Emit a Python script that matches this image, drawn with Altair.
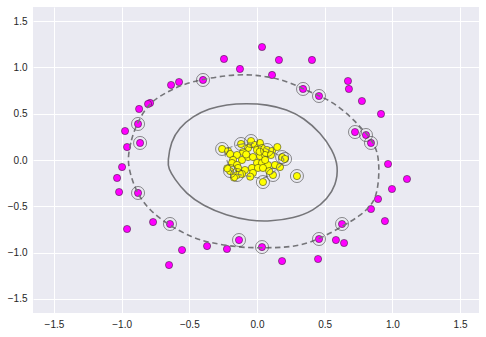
import altair as alt
import pandas as pd

# ---- data ----
mag_x = [0.037, -0.244, 0.162, 0.406, -0.126, 0.111, -0.576, -0.635, -0.399, -0.790,
         -0.805, -0.871, -0.879, -0.975, -0.864, -0.960, -0.997, -1.034, -1.019, -0.879,
         -0.768, -0.643, -0.960, -0.554, -0.369, -0.222, -0.133, 0.037, -0.650, 0.185,
         0.451, 0.458, 0.583, 0.643, 0.628, 0.945, 0.842, 0.894, 0.997, 1.108,
         0.968, 0.842, 0.805, 0.724, 0.916, 0.775, 0.679, 0.672, 0.458, 0.340]
mag_y = [1.220, 1.091, 1.080, 1.080, 0.983, 0.918, 0.842, 0.810, 0.864, 0.616,
         0.605, 0.551, 0.389, 0.313, 0.184, 0.140, -0.076, -0.194, -0.346, -0.356,
         -0.670, -0.691, -0.745, -0.972, -0.929, -0.961, -0.864, -0.940, -1.134, -1.091,
         -1.069, -0.853, -0.864, -0.896, -0.691, -0.659, -0.529, -0.421, -0.313, -0.205,
         -0.043, 0.184, 0.270, 0.302, 0.497, 0.637, 0.767, 0.853, 0.691, 0.767]
mag_sv = [0, 0, 0, 0, 0, 0, 0, 0, 1, 0,
          0, 0, 1, 0, 1, 0, 0, 0, 0, 1,
          0, 1, 0, 0, 0, 0, 1, 1, 0, 0,
          0, 1, 0, 0, 1, 0, 0, 0, 0, 0,
          0, 1, 1, 1, 0, 0, 0, 0, 1, 1]

yel_x = [-0.258, -0.214, -0.199, -0.118, -0.044, -0.015, 0.022, -0.066, 0.000, 0.037,
         0.074, 0.111, -0.103, -0.148, -0.177, -0.111, -0.066, -0.030, 0.022, 0.059,
         0.103, 0.185, 0.207, -0.185, -0.148, 0.000, 0.037, 0.081, 0.133, 0.170,
         -0.199, -0.140, -0.089, -0.037, 0.007, 0.044, 0.118, -0.148, -0.111, -0.030,
         0.044, 0.295, -0.080, 0.060, -0.220, 0.150, -0.050, 0.090, -0.170, 0.020]
yel_y = [0.119, 0.097, 0.065, 0.173, 0.205, 0.162, 0.184, 0.130, 0.108, 0.130,
         0.108, 0.097, 0.086, 0.054, 0.000, 0.000, 0.032, 0.032, 0.043, 0.054,
         0.054, 0.032, 0.011, -0.032, -0.054, -0.032, -0.032, -0.054, -0.054, -0.076,
         -0.119, -0.086, -0.108, -0.086, -0.086, -0.086, -0.162, -0.162, -0.151, -0.140,
         -0.238, -0.173, 0.060, 0.000, -0.090, 0.140, -0.180, -0.120, -0.190, 0.090]
yel_sv = [1, 0, 0, 1, 1, 0, 0, 0, 0, 0,
          1, 0, 0, 0, 0, 0, 0, 0, 0, 0,
          0, 1, 1, 0, 0, 0, 0, 0, 0, 0,
          1, 0, 0, 0, 0, 0, 1, 1, 0, 0,
          1, 1, 0, 0, 0, 0, 0, 0, 0, 0]

# decision boundary (solid), traced
sol_x = [-0.660, -0.636, -0.575, -0.475, -0.351, -0.226, -0.077, 0.073, 0.221, 0.346,
         0.470, 0.558, 0.602, 0.582, 0.520, 0.420, 0.271, 0.097, -0.053, -0.226,
         -0.401, -0.524, -0.612, -0.654]
sol_y = [-0.018, 0.200, 0.346, 0.473, 0.557, 0.600, 0.611, 0.600, 0.546, 0.455,
         0.291, 0.109, -0.073, -0.273, -0.418, -0.546, -0.629, -0.663, -0.655, -0.600,
         -0.491, -0.364, -0.200, -0.091]

# outer margin (dashed), traced
out_x = [-0.960, -0.930, -0.886, -0.796, -0.670, -0.551, -0.402, -0.224, -0.075, 0.075,
         0.224, 0.335, 0.455, 0.565, 0.692, 0.767, 0.818, 0.878, 0.901, 0.901,
         0.878, 0.841, 0.767, 0.640, 0.469, 0.320, 0.171, 0.037, -0.127, -0.350,
         -0.477, -0.648, -0.796, -0.886, -0.930]
out_y = [0.000, 0.218, 0.403, 0.621, 0.730, 0.816, 0.871, 0.914, 0.925, 0.903,
         0.849, 0.773, 0.696, 0.621, 0.468, 0.349, 0.272, 0.141, 0.000, -0.218,
         -0.403, -0.490, -0.599, -0.708, -0.849, -0.925, -0.947, -0.947, -0.947, -0.893,
         -0.839, -0.708, -0.544, -0.359, -0.185]

# inner margin (dashed), traced through the inner cluster
inn_x = [-0.26, -0.12, -0.04, 0.07, 0.19, 0.21, 0.15, 0.05, -0.05, -0.15, -0.20, -0.22]
inn_y = [0.12, 0.17, 0.20, 0.12, 0.03, 0.00, -0.10, -0.22, -0.17, -0.16, -0.12, 0.00]

ticks = [-1.5, -1.0, -0.5, 0.0, 0.5, 1.0, 1.5]

# ---- tables ----
pts = pd.DataFrame({
    "x": mag_x + yel_x,
    "y": mag_y + yel_y,
    "cls": ["outer"] * len(mag_x) + ["inner"] * len(yel_x),
    "sv": mag_sv + yel_sv,
})
svs = pts[pts["sv"] == 1]


def path(xs, ys, name):
    return pd.DataFrame({"x": xs, "y": ys, "i": list(range(len(xs))), "c": name})


sol = path(sol_x, sol_y, "solid")
outer = path(out_x, out_y, "outer")
inner = path(inn_x, inn_y, "inner")

xs = alt.Scale(domain=[-1.655, 1.64], nice=False, zero=False)
ys = alt.Scale(domain=[-1.652, 1.652], nice=False, zero=False)
xax = alt.Axis(values=ticks, format=".1f", title=None, ticks=False, domain=False,
               labelPadding=6, gridColor="white", gridWidth=1)
yax = alt.Axis(values=ticks, format=".1f", title=None, ticks=False, domain=False,
               labelPadding=6, gridColor="white", gridWidth=1)

X = alt.X("x:Q", scale=xs, axis=xax)
Y = alt.Y("y:Q", scale=ys, axis=yax)

points = alt.Chart(pts).mark_circle(size=52, opacity=1, stroke="#222222",
                                    strokeWidth=0.5).encode(
    x=X, y=Y,
    color=alt.Color("cls:N", scale=alt.Scale(domain=["outer", "inner"],
                                             range=["#FF00FF", "#FFFF00"]), legend=None),
)

line_color = "#757579"
solid_line = alt.Chart(sol).mark_line(color=line_color, strokeWidth=1.6,
                                      interpolate="basis-closed").encode(
    x=alt.X("x:Q", scale=xs), y=alt.Y("y:Q", scale=ys), order="i:Q")
outer_line = alt.Chart(outer).mark_line(color=line_color, strokeWidth=1.6,
                                        strokeDash=[5.5, 3.5],
                                        interpolate="basis-closed").encode(
    x=alt.X("x:Q", scale=xs), y=alt.Y("y:Q", scale=ys), order="i:Q")
inner_line = alt.Chart(inner).mark_line(color=line_color, strokeWidth=1.2,
                                        strokeDash=[5.5, 3.5], opacity=0.8,
                                        interpolate="basis-closed").encode(
    x=alt.X("x:Q", scale=xs), y=alt.Y("y:Q", scale=ys), order="i:Q")

sv_rings = alt.Chart(svs).mark_point(shape="circle", size=170, filled=False,
                                     stroke="#444444", strokeWidth=0.7,
                                     opacity=0.85).encode(
    x=alt.X("x:Q", scale=xs), y=alt.Y("y:Q", scale=ys))

chart = alt.layer(points, inner_line, solid_line, outer_line, sv_rings).properties(
    width=446, height=306,
    autosize=alt.AutoSizeParams(type="none"),
    padding={"left": 33, "top": 7, "right": 7, "bottom": 24},
    background="white",
).configure_view(
    fill="#EAEAF2", stroke=None
).configure_axis(
    labelFont="Liberation Sans", labelFontSize=10, labelColor="#262626",
)

chart.save("out.html", embed_options={"renderer": "svg", "actions": False})
